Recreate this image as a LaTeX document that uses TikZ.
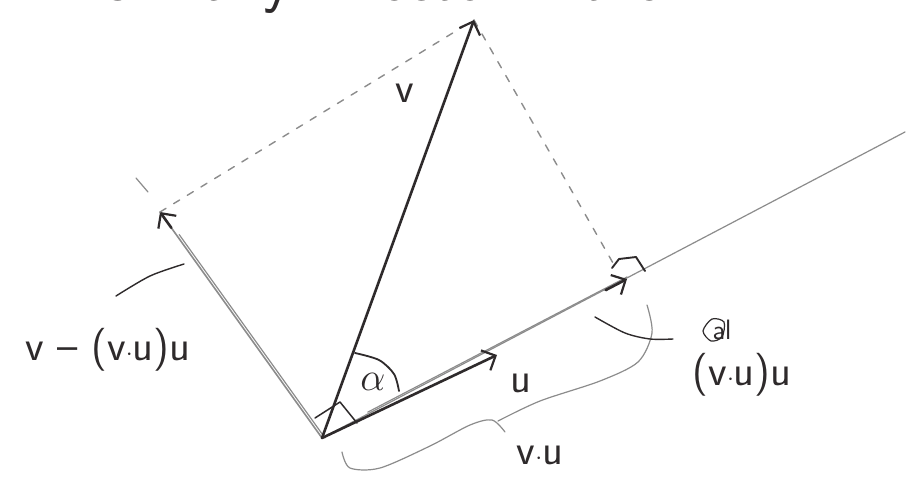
\documentclass[tikz,border=0pt]{standalone}
\usetikzlibrary{arrows.meta,calc}
\definecolor{inkc}{HTML}{2E2A2B}
\definecolor{pencilc}{HTML}{8C8C8C}
\begin{document}
\begin{tikzpicture}[x=1pt,y=-1pt,
  ink/.style={draw=inkc, line width=2.6pt, line cap=round, line join=round},
  thinink/.style={draw=inkc, line width=1.5pt, line cap=round, line join=round},
  pencil/.style={draw=pencilc, line width=1.2pt, line cap=round},
  dashline/.style={draw=pencilc, line width=1.4pt, line cap=round, dash pattern=on 7pt off 9pt},
  barb/.style={-{Straight Barb[length=11pt,width=22pt,line width=2.2pt]}},
  lab/.style={text=inkc, font=\sffamily\fontsize{43}{46}\selectfont, inner sep=0pt},
  headline/.style={text=inkc, font=\sffamily\fontsize{64}{70}\selectfont, inner sep=0pt, anchor=base west}
]
\useasboundingbox (0,0) rectangle (915,487);
\clip (0,0) rectangle (915,487);
\fill[white] (0,0) rectangle (915,487);

% top line of text (cut off by the top edge)
\node[headline] (t1) at (-4,1) {v};
\node[headline] (t2) at (92,1) {is};
\node[headline] (t3) at (203,1) {any};
\node[headline] (t4) at (352,1) {vector};
\node[headline] (t5) at (582,1) {then.};

% points
\coordinate (O) at (322,438);
\coordinate (V) at (474,20);
\coordinate (U) at (497,355);
\coordinate (P) at (627,279);
\coordinate (E) at (905,132);
\coordinate (W) at (160,212);
\coordinate (Wa) at (148,192);
\coordinate (Wb) at (136,178);
\coordinate (F) at (613,263);

% line through u
\draw[pencil] (O) -- (E);
\draw[pencil] ([yshift=2pt]$(O)!0.15!(P)$) -- ([yshift=2pt]P);
% projection arrow head
\draw[ink, barb] ($(O)!0.93!(P)$) -- (P);

% v - (v.u)u
\draw[pencil, line width=1.6pt] (O) -- (W);
\draw[pencil] ([xshift=3pt]O) -- ([xshift=3pt]$(O)!0.9!(W)$);
\draw[ink, barb] ($(O)!0.93!(W)$) -- (W);
\draw[pencil] (Wa) -- (Wb);

% dashed completion
\draw[dashline] (W) -- (V);
\draw[dashline] (V) -- (F);

% vectors v and u
\draw[ink, barb] (O) -- (V);
\draw[ink, barb] (O) -- (U);

% right angle marks
\draw[thinink, line width=1.9pt] (612,268) -- (619,259) -- (636,257) -- (645,271);
\draw[thinink] (315,418) -- (340,402) -- (357,423);

% angle alpha
\draw[thinink, line width=1.8pt] plot[smooth] coordinates {(355,353) (379,360) (394,374) (399,391)};

% labels
\node[lab] (lv) at (405,93) {v};
\node[lab] (lu) at (521,383) {u};
\node[lab] (lal) at (373,382) {\scalebox{1.6}{$\alpha$}};
\node[lab] (lvu) at (540,455) {v$\cdot$u};
\node[lab] (lproj) at (742,375) {(v$\cdot$u)u};
\node[lab] (lperp) at (108,350) {v \textendash\ (v$\cdot$u)u};
\node[lab, font=\sffamily\fontsize{28}{30}\selectfont] (lscr) at (722,330) {al};
\draw[thinink, line width=1.2pt] plot[smooth cycle] coordinates {(703,331) (712,319) (724,322) (722,337) (711,341)};

% brace under the projection
\draw[pencil] plot[smooth] coordinates {(342,452) (350,468) (380,468) (430,446) (470,425) (492,420) (505,432)};
\draw[pencil] plot[smooth] coordinates {(498,421) (540,401) (600,381) (638,362) (652,333) (647,305)};

% pointers from labels
\draw[thinink, line width=1.4pt] plot[smooth] coordinates {(595,317) (625,333) (650,339) (673,339)};
\draw[thinink, line width=1.4pt] plot[smooth] coordinates {(116,296) (150,276) (184,264)};
\end{tikzpicture}
\end{document}
